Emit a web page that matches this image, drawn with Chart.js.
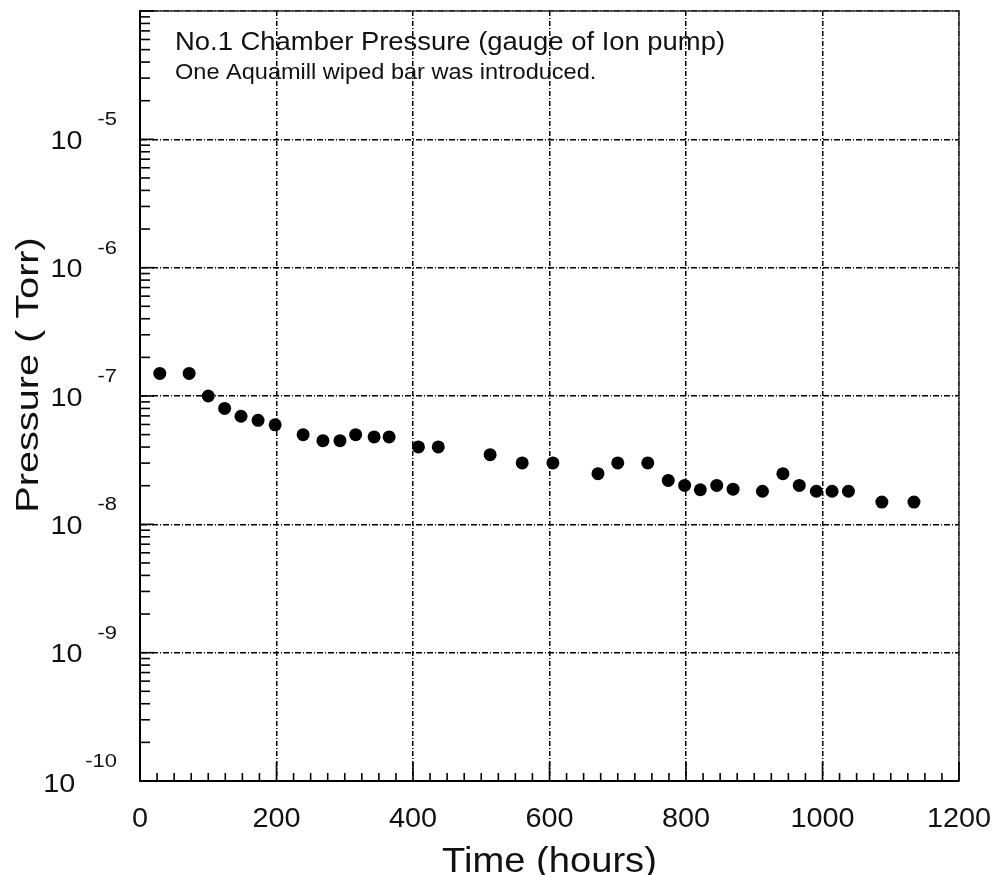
<!DOCTYPE html>
<html>
<head>
<meta charset="utf-8">
<script src="https://cdn.jsdelivr.net/npm/chart.js@4.4.1/dist/chart.umd.min.js"></script>
<style>
html,body{margin:0;padding:0;background:#fff;}
#wrap{width:995px;height:875px;}
</style>
</head>
<body>
<div id="wrap"><canvas id="c" width="995" height="875"></canvas></div>
<script>
// ---- data ----
const times = [29,72,100,124,148,173,198,239,268,293,316,343,365,408,437,513,560,605,671,700,744,774,798,821,845,869,912,942,966,991,1014,1038,1087,1134];
const pressures = [1.50e-7,1.50e-7,1.00e-7,8.0e-8,6.95e-8,6.46e-8,5.96e-8,5.0e-8,4.49e-8,4.49e-8,5.0e-8,4.8e-8,4.8e-8,4.01e-8,4.01e-8,3.49e-8,3.01e-8,3.01e-8,2.48e-8,3.01e-8,3.01e-8,2.20e-8,2.01e-8,1.86e-8,2.01e-8,1.88e-8,1.81e-8,2.48e-8,2.01e-8,1.81e-8,1.81e-8,1.81e-8,1.49e-8,1.49e-8];
const xTickValues = [0,200,400,600,800,1000,1200];
const xTickLabels = ["0","200","400","600","800","1000","1200"];
const yExponents = [-10,-9,-8,-7,-6,-5,-4];
const yLabelExponents = ["-10","-9","-8","-7","-6","-5"];
const xMinorStep = 25;
const titleLine1 = "No.1 Chamber Pressure (gauge of Ion pump)";
const titleLine2 = "One Aquamill wiped bar was introduced.";
const xTitle = "Time (hours)";
const yTitle = "Pressure ( Torr)";

const FONT = '"Liberation Sans", Arial, Helvetica, sans-serif';

function drawText(ctx, text, x, y, size, align, sx) {
  ctx.save();
  ctx.font = size + 'px ' + FONT;
  ctx.fillStyle = '#111';
  ctx.textBaseline = 'alphabetic';
  const w = ctx.measureText(text).width * sx;
  let left = x;
  if (align === 'center') left = x - w / 2;
  else if (align === 'right') left = x - w;
  ctx.translate(left, y);
  ctx.scale(sx, 1);
  ctx.textAlign = 'left';
  ctx.fillText(text, 0, 0);
  ctx.restore();
  return w;
}
function textWidth(ctx, text, size, sx) {
  ctx.save();
  ctx.font = size + 'px ' + FONT;
  const w = ctx.measureText(text).width * sx;
  ctx.restore();
  return w;
}

const decorPlugin = {
  id: 'decor',
  afterDraw(chart) {
    const ctx = chart.ctx;
    const xs = chart.scales.x, ys = chart.scales.y;
    const a = chart.chartArea;
    ctx.save();
    ctx.setLineDash([]);
    // frame top/right
    ctx.strokeStyle = '#333';
    ctx.lineWidth = 1.5;
    ctx.beginPath();
    ctx.moveTo(a.left, a.top); ctx.lineTo(a.right, a.top); ctx.lineTo(a.right, a.bottom);
    ctx.stroke();
    // left/bottom frame
    ctx.strokeStyle = '#000';
    ctx.lineWidth = 2;
    ctx.beginPath();
    ctx.moveTo(a.left, a.top); ctx.lineTo(a.left, a.bottom); ctx.lineTo(a.right, a.bottom);
    ctx.stroke();
    // y minor & major ticks (inside, left)
    ctx.lineWidth = 1.6;
    for (let i = 0; i < yExponents.length - 1; i++) {
      const e = yExponents[i];
      for (let m = 2; m <= 9; m++) {
        const py = ys.getPixelForValue(m * Math.pow(10, e));
        ctx.beginPath(); ctx.moveTo(a.left, py); ctx.lineTo(a.left + 10, py); ctx.stroke();
      }
    }
    yExponents.forEach(e => {
      const py = ys.getPixelForValue(Math.pow(10, e));
      ctx.beginPath(); ctx.moveTo(a.left, py); ctx.lineTo(a.left + 14, py); ctx.stroke();
    });
    // x minor & major ticks (inside, bottom)
    for (let v = xs.min; v <= xs.max; v += xMinorStep) {
      const px = xs.getPixelForValue(v);
      const major = xTickValues.includes(v);
      ctx.beginPath(); ctx.moveTo(px, a.bottom); ctx.lineTo(px, a.bottom - (major ? 19 : 8)); ctx.stroke();
    }
    ctx.restore();

    // y tick labels
    yLabelExponents.forEach((ex, i) => {
      const py = ys.getPixelForValue(Math.pow(10, yExponents[i]));
      const supSize = 18, supSx = 1.22;
      const supW = textWidth(ctx, ex, supSize, supSx);
      const supLeft = 117 - supW;
      drawText(ctx, ex, supLeft, py - 14, supSize, 'left', supSx);
      const gap = ex.length > 2 ? 10 : 15;
      drawText(ctx, "10", supLeft - gap, py + (ex.length > 2 ? 11 : 9.5), 25, 'right', 1.15);
    });
    // x tick labels
    xTickValues.forEach((v, i) => {
      const px = xs.getPixelForValue(v);
      drawText(ctx, xTickLabels[i], px, 827, 28, 'center', 1.03);
    });
    // axis titles
    drawText(ctx, xTitle, (a.left + a.right) / 2, 872, 35, 'center', 1.09);
    ctx.save();
    ctx.translate(38, 375);
    ctx.rotate(-Math.PI / 2);
    drawText(ctx, yTitle, 0, 0, 32, 'center', 1.24);
    ctx.restore();
    // annotation text
    drawText(ctx, titleLine1, 175, 50, 25.5, 'left', 1.075);
    drawText(ctx, titleLine2, 175, 79, 22, 'left', 1.07);
  }
};

new Chart(document.getElementById('c'), {
  type: 'scatter',
  data: {
    datasets: [{
      data: times.map((t, i) => ({ x: t, y: pressures[i] })),
      pointRadius: 6.5,
      pointHoverRadius: 6.5,
      pointBackgroundColor: '#000',
      pointBorderColor: '#000',
      pointBorderWidth: 0,
      showLine: false
    }]
  },
  options: {
    responsive: false,
    animation: false,
    events: [],
    layout: { padding: { left: 140, right: 36, top: 11, bottom: 94 } },
    plugins: { legend: { display: false }, tooltip: { enabled: false } },
    scales: {
      x: {
        type: 'linear',
        min: 0, max: 1200,
        ticks: { display: false, stepSize: 200 },
        grid: { color: '#000', lineWidth: 1.5, drawTicks: false },
        border: { display: true, color: '#000', width: 2, dash: [5, 2, 1, 2] },
        title: { display: false }
      },
      y: {
        type: 'logarithmic',
        min: 1e-10, max: 1e-4,
        afterBuildTicks: (scale) => { scale.ticks = yExponents.map(e => ({ value: Math.pow(10, e) })); },
        ticks: { display: false },
        grid: { color: '#000', lineWidth: 1.5, drawTicks: false },
        border: { display: true, color: '#000', width: 2, dash: [6, 2, 1, 2] },
        title: { display: false }
      }
    }
  },
  plugins: [decorPlugin]
});
</script>
</body>
</html>
